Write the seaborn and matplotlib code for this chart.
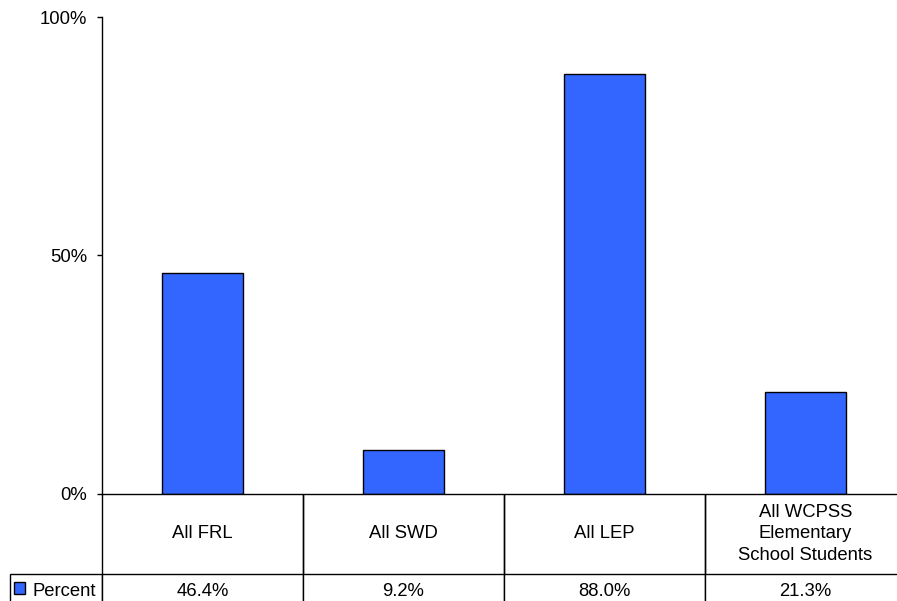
import numpy as np
import pandas as pd
import seaborn as sns
import matplotlib.pyplot as plt
from matplotlib.patches import Patch
from matplotlib.ticker import FuncFormatter

categories = ["All FRL", "All SWD", "All LEP", "All WCPSS\nElementary\nSchool Students"]
values = [46.4, 9.2, 88.0, 21.3]
series_name = "Percent"
y_ticks = [0, 50, 100]

df = pd.DataFrame({"group": categories, "pct": values})

sns.set_style("white")
plt.rcParams["font.family"] = ["Liberation Sans", "DejaVu Sans"]
plt.rcParams["font.size"] = 13.3
plt.rcParams["text.color"] = "black"
plt.rcParams["ytick.color"] = "black"

bar_color = "#3366FF"

fig = plt.figure(figsize=(8.97, 6.01), dpi=100)
W, H = 897, 601
# axes runs past the right edge like the original export
ax = fig.add_axes([102 / W, (H - 494) / H, 804 / W, 477 / H])

sns.barplot(data=df, x="group", y="pct", color=bar_color, width=0.4,
            edgecolor="black", linewidth=1, saturation=1, ax=ax)

ax.set_xlim(-0.5, len(categories) - 0.5)
ax.set_ylim(0, 100)
ax.set_yticks(y_ticks)
ax.yaxis.set_major_formatter(FuncFormatter(lambda v, p: f"{v:.0f}%"))
ax.tick_params(axis="y", left=True, length=3.6, width=1, color="black",
               labelsize=13.3, labelcolor="black", pad=7)
ax.set_xticks([])
ax.set_xlabel("")
ax.set_ylabel("")
for s in ["top", "right"]:
    ax.spines[s].set_visible(False)
for s in ["left", "bottom"]:
    ax.spines[s].set_color("black")
    ax.spines[s].set_linewidth(1)

# data table under the plot
label_w = 92 / 804
col_w = 1 / len(categories)
head_h, row_h = 80, 35
tbl = ax.table(cellText=[[f"{v:.1f}%" for v in values]],
               colLabels=categories,
               colWidths=[col_w] * len(categories),
               cellLoc="center",
               bbox=[0, -(head_h + row_h) / 477, 1, (head_h + row_h) / 477])
tbl.add_cell(1, -1, width=label_w, height=row_h, text=series_name, loc="right")
tbl.auto_set_font_size(False)
tbl.set_fontsize(13.3)
for (r, c), cell in tbl.get_celld().items():
    cell.set_edgecolor("black")
    cell.set_linewidth(1)
    cell.set_height(head_h if r == 0 else row_h)
    cell.get_text().set_linespacing(1.38)
    if c == -1:
        cell.set_width(label_w)
        cell.PAD = 0.07
    if r == 0:
        cell.visible_edges = "LR"

ax.legend(handles=[Patch(facecolor=bar_color, edgecolor="black", label="")],
          loc="center left", bbox_to_anchor=(-88 / 804, -(head_h + 16) / 477),
          frameon=False, handlelength=0.62, handleheight=0.62, borderpad=0,
          borderaxespad=0, handletextpad=0)

plt.savefig("out.png", dpi=100)
